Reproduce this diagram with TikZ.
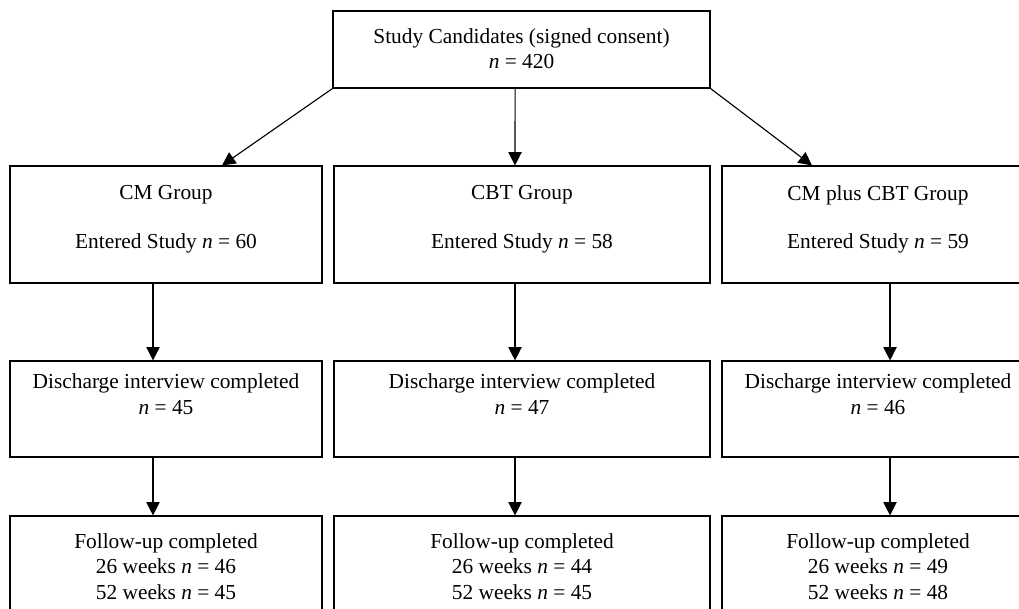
\documentclass[tikz,border=0pt]{standalone}
\usepackage{fontspec}
\setmainfont{Liberation Serif}
\usetikzlibrary{arrows.meta}
\usetikzlibrary{positioning}

\tikzset{
  box/.style={draw, line width=0.8pt, inner sep=0pt},
  txt/.style={align=center, inner sep=0pt, font=\fontsize{15.2}{18.1}\selectfont},
  arr/.style={line width=0.8pt, -{Triangle[length=9.5pt,width=9.5pt]}}
}
\newcommand{\nn}{\textit{n}}

\begin{document}
\begin{tikzpicture}[x=0.025cm,y=-0.025cm]
        \useasboundingbox (0,0) rectangle (1019,608);
        % boxes
        \node[box, minimum width=9.425cm, minimum height=1.925cm] (cand) at (521.5,49.5) {};
        \foreach \n/\x/\w in {cm/166/7.8, cbt/522/9.4, both/878/7.8} {
          \node[box, minimum width=\w cm, minimum height=2.925cm] (\n) at (\x,224.5) {};
          \node[box, minimum width=\w cm, minimum height=2.4cm] (\n-dis) at (\x,409) {};
          \node[box, minimum width=\w cm, minimum height=2.75cm] (\n-fu) at (\x,571) {};
        }
        % texts
        \node[txt, below=0.44cm of cand.north] (cand-t) {Study Candidates (signed consent)\\\nn{} = 420};
        \node[txt, below=0.49cm of cm.north] (cm-t) {CM Group\\[16.5pt]Entered Study \nn{} = 60};
        \node[txt, below=0.49cm of cbt.north] (cbt-t) {CBT Group\\[16.5pt]Entered Study \nn{} = 58};
        \node[txt, below=0.49cm of both.north] (both-t) {CM plus CBT Group\\[16.5pt]Entered Study \nn{} = 59};
        \foreach \n/\a in {cm/45, cbt/47, both/46} {
          \node[txt, below=0.33cm of \n-dis.north] (\n-dis-t) {Discharge interview completed\\\nn{} = \a};
        }
        \foreach \n/\a/\b in {cm/46/45, cbt/44/45, both/49/48} {
          \node[txt, below=0.44cm of \n-fu.north] (\n-fu-t) {Follow-up completed\\26 weeks \nn{} = \a\\52 weeks \nn{} = \b};
        }
        % arrows
        \draw[arr] (cand.south west) -- ([xshift=1.4cm]cm.north);
        \draw[arr] ([xshift=-0.16cm]cand.south) -- ([xshift=-0.175cm]cbt.north);
        \draw[arr] (cand.south east) -- ([xshift=-1.65cm]both.north);
        \foreach \n/\s in {cm/-0.325, cbt/-0.175, both/0.3} {
          \draw[arr] ([xshift=\s cm]\n.south) -- ([xshift=\s cm]\n-dis.north);
          \draw[arr] ([xshift=\s cm]\n-dis.south) -- ([xshift=\s cm]\n-fu.north);
        }
\end{tikzpicture}
\end{document}
